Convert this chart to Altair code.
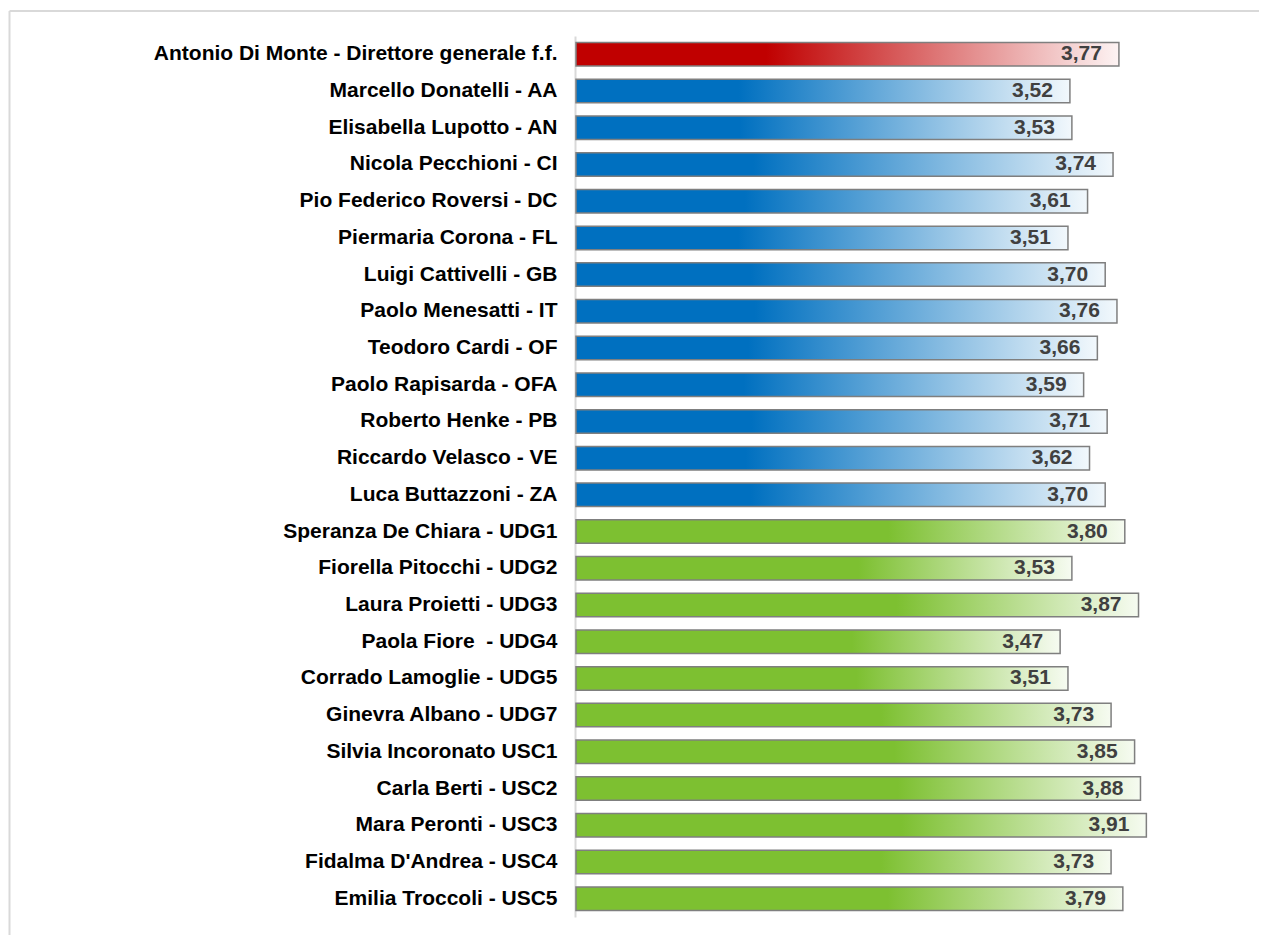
import altair as alt
import pandas as pd

names = [
    "Antonio Di Monte - Direttore generale f.f.",
    "Marcello Donatelli - AA",
    "Elisabella Lupotto - AN",
    "Nicola Pecchioni - CI",
    "Pio Federico Roversi - DC",
    "Piermaria Corona - FL",
    "Luigi Cattivelli - GB",
    "Paolo Menesatti - IT",
    "Teodoro Cardi - OF",
    "Paolo Rapisarda - OFA",
    "Roberto Henke - PB",
    "Riccardo Velasco - VE",
    "Luca Buttazzoni - ZA",
    "Speranza De Chiara - UDG1",
    "Fiorella Pitocchi - UDG2",
    "Laura Proietti - UDG3",
    "Paola Fiore\u00a0 - UDG4",
    "Corrado Lamoglie - UDG5",
    "Ginevra Albano - UDG7",
    "Silvia Incoronato USC1",
    "Carla Berti - USC2",
    "Mara Peronti - USC3",
    "Fidalma D'Andrea - USC4",
    "Emilia Troccoli - USC5",
]
values = [3.77, 3.52, 3.53, 3.74, 3.61, 3.51, 3.70, 3.76, 3.66, 3.59, 3.71, 3.62,
          3.70, 3.80, 3.53, 3.87, 3.47, 3.51, 3.73, 3.85, 3.88, 3.91, 3.73, 3.79]
groups = ["dir"] + ["dip"] * 12 + ["udg"] * 11

df = pd.DataFrame({"name": names, "value": values, "group": groups})

def grad(c0, solid, c1):
    return alt.Gradient(
        gradient="linear", x1=0, x2=1, y1=0, y2=0,
        stops=[alt.GradientStop(color=c0, offset=0),
               alt.GradientStop(color=c0, offset=solid),
               alt.GradientStop(color=c1, offset=1)])

fills = {
    "dir": grad("#C00000", 0.35, "#FDF3F3"),
    "dip": grad("#0070C0", 0.33, "#F2F8FC"),
    "udg": grad("#7DC031", 0.57, "#F6FBF1"),
}

y_enc = alt.Y(
    "name:N", sort=names,
    scale=alt.Scale(domain=names, paddingInner=0.36, paddingOuter=0.18),
    axis=alt.Axis(title=None, ticks=False, tickSize=0, grid=False,
                  labelFont="Liberation Sans", labelFontSize=21,
                  labelFontWeight="bold", labelColor="#000000",
                  labelPadding=18, labelLimit=700, offset=1,
                  domainColor="#D9D9D9", domainWidth=2),
)
x_enc = alt.X("value:Q", scale=alt.Scale(domain=[1, 4], nice=False, zero=False), axis=None)

base = alt.Chart(df)
bars = [
    base.transform_filter(alt.datum.group == g)
    .mark_bar(fill=f, stroke="#7F7F7F", strokeWidth=1.5)
    .encode(y=y_enc, x=x_enc, x2=alt.datum(1))
    for g, f in fills.items()
]

labels = base.transform_calculate(
    lab="replace(format(datum.value, '.2f'), '.', ',')"
).mark_text(align="right", baseline="middle", dx=-17, font="Liberation Sans",
            fontSize=21, fontWeight="bold", color="#404040").encode(
    y=y_enc, x=x_enc, text="lab:N")

one = pd.DataFrame({"a": [0]})
frame_top = alt.Chart(one).mark_rule(color="#D9D9D9", strokeWidth=2).encode(
    y=alt.value(-25), x=alt.value(-566.5), x2=alt.value(683))
frame_left = alt.Chart(one).mark_rule(color="#D9D9D9", strokeWidth=2).encode(
    x=alt.value(-566.5), y=alt.value(-25), y2=alt.value(899))

chart = alt.layer(frame_top, frame_left, *bars, labels).properties(
    width=588, height=881,
    padding={"left": 0, "top": 2, "right": 0, "bottom": 0},
).configure_view(stroke=None)

chart.save("out.html", embed_options={"renderer": "svg", "actions": False})
